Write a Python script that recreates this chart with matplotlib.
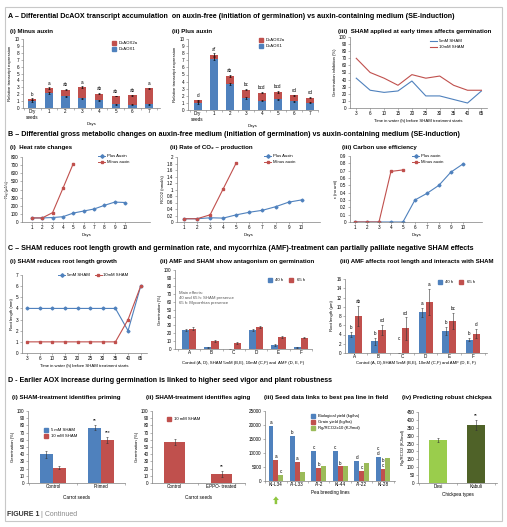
import matplotlib
matplotlib.use("Agg")
import matplotlib.pyplot as plt
import numpy as np
from matplotlib.lines import Line2D
from matplotlib.patches import Rectangle

plt.rcParams['font.family'] = ['Liberation Sans', 'DejaVu Sans']
plt.rcParams['font.size'] = 3.3

# ---------------- data ----------------
# A  DcAOX transcripts, stacked: DcAOX1 (bottom) + DcAOX2a (top)
a_days = ["Dry\nseeds", "1", "2", "3", "4", "5", "6", "7"]
a_minus_aox1 = [1.0, 2.2, 1.7, 1.4, 1.15, 0.55, 0.5, 0.55]
a_minus_aox2a = [0.3, 0.7, 0.95, 1.6, 0.95, 1.2, 1.35, 2.3]
a_minus_err = [0.1, 0.12, 0.1, 0.12, 0.08, 0.06, 0.06, 0.08]
a_minus_letters = ["b", "a", "ab", "a", "ab", "ab", "ab", "a"]
a_plus_aox1 = [1.0, 7.2, 3.7, 1.7, 1.3, 1.5, 1.25, 1.0]
a_plus_aox2a = [0.35, 0.6, 1.1, 1.15, 1.15, 1.05, 0.8, 0.75]
a_plus_err = [0.1, 0.2, 0.12, 0.1, 0.1, 0.1, 0.08, 0.08]
a_plus_letters = ["d", "a*", "ab", "bc", "bcd", "bcd", "cd", "cd"]

sham_hours = ["3", "6", "10", "15", "20", "25", "30", "35", "40", "65"]
inhib_5mm = [42, 25, 22, 24, 38, 17, 17, 12, 7, 24]
inhib_10mm = [70, 50, 42, 32, 47, 42, 45, 32, 25, 25]

# B  metabolic changes
b_days = [1, 2, 3, 4, 5, 6, 7, 8, 9, 10]
heat_plus = [50, 50, 55, 65, 110, 135, 160, 205, 245, 240]
heat_minus = [50, 50, 115, 415, 720]
co2_plus = [0.1, 0.1, 0.13, 0.12, 0.22, 0.3, 0.36, 0.47, 0.61, 0.68]
co2_minus = [0.1, 0.1, 0.22, 1.02, 1.82]
cue_plus = [0, 0, 0, 0, 0, 0.3, 0.39, 0.5, 0.68, 0.79]
cue_minus = [0, 0, 0, 0.69, 0.71]

# C  SHAM / AMF
root_5mm = [4, 4, 4, 4, 4, 4, 4, 4, 2, 6]
root_10mm = [1, 1, 1, 1, 1, 1, 1, 1, 3, 6]
amf_groups = ["A", "B", "C", "D", "E", "F"]
germ_40h = [24, 2, 0, 24, 5, 2]
germ_40h_err = [1.5, 1, 0, 1.5, 1.5, 0.8]
germ_65h = [25.5, 10, 7.5, 28, 15.5, 14.5]
germ_65h_err = [2, 0.8, 0.8, 1, 1, 1]
rl_40h = [4.0, 2.5, 0, 8.8, 4.8, 2.9]
rl_40h_err = [0.6, 0.8, 0, 1.0, 0.8, 0.3]
rl_40h_letters = ["b", "b", "c", "a", "b", "b"]
rl_65h = [8.0, 5.0, 5.3, 11.0, 6.9, 4.2]
rl_65h_err = [2.2, 1.0, 2.4, 2.8, 1.8, 1.0]
rl_65h_letters = ["ab", "cd", "cd", "a", "bc", "d"]

# D  seed vigour
priming_cats = ["Control", "Primed"]
prim_5mm = [40, 77]
prim_5mm_err = [5, 4]
prim_5mm_stars = ["", "**"]
prim_10mm = [21.5, 60]
prim_10mm_err = [2, 4]
prim_10mm_stars = ["", "***"]
aging_cats = ["Control", "EPPO- treated"]
aging_germ = [57, 13]
aging_err = [4.5, 4]
aging_stars = ["", "**"]
pea_lines = ["KI-L34", "AI-L33", "AI-2", "KI-44", "AI-22", "KI-28"]
bio_yield = [19800, 16000, 10800, 10800, 7200, 8700]
bio_letters = ["a", "b", "c", "c", "d", "c\nd"]
grain_yield = [7500, 6700, 4800, 5200, 3500, 4300]
grain_letters = ["a", "a", "b", "b", "c", "b\nc"]
rg_x10 = [2200, 3200, 5200, 5200, 6300, 8300]
rg_x10_letters = ["c", "", "", "", "", ""]
chickpea = ["Desi", "Kabuli"]
chick_rg = [272, 370]
chick_err = [15, 32]
chick_stars = ["", "**"]

BLUE, RED, GREEN = "#4f81bd", "#c0504d", "#9bbb59"
DESI, KABULI = "#9acd4c", "#4f6228"
AXC = "#7f7f7f"

W, H = 507, 527
fig = plt.figure(figsize=(W / 100, H / 100), dpi=100)


def axpx(x0, y0, x1, y1):
    ax = fig.add_axes([x0 / W, 1 - y1 / H, (x1 - x0) / W, (y1 - y0) / H])
    for s in ("top", "right"):
        ax.spines[s].set_visible(False)
    for s in ("left", "bottom"):
        ax.spines[s].set_color(AXC)
        ax.spines[s].set_linewidth(0.5)
    ax.tick_params(length=1.5, width=0.4, pad=1, labelsize=3.3, color=AXC)
    ax.patch.set_alpha(0)
    return ax


def txt(x, y, s, size=4.2, weight="bold", **kw):
    fig.text(x / W, 1 - y / H, s, fontsize=size, fontweight=weight, va="center", ha="left", **kw)


def leg(ax, handles, labels, x, y, ncol=1, size=3.1):
    ax.legend(handles, labels, loc="upper left", bbox_to_anchor=(x / W, 1 - y / H),
              bbox_transform=fig.transFigure, frameon=False, fontsize=size, ncol=ncol,
              borderpad=0, labelspacing=0.5, handletextpad=0.4, handlelength=1.6, columnspacing=1.2)


def sq(c):
    return Line2D([], [], ls="none", marker="s", ms=2.2, mfc=c, mec=c)


def ln(c, m):
    return Line2D([], [], color=c, lw=0.7, marker=m, ms=1.8, mfc=c, mec=c)


def cat_ticks(ax, labels):
    n = len(labels)
    ax.set_xticks(range(n))
    ax.set_xticklabels(labels)
    ax.set_xticks(np.arange(n + 1) - 0.5, minor=True)
    ax.tick_params(axis="x", which="major", length=0)
    ax.tick_params(axis="x", which="minor", length=1.5, width=0.4, color=AXC)


# frame + section titles
fig.add_artist(Rectangle((5 / W, 1 - 521 / H), 497 / W, 514 / H, transform=fig.transFigure,
                         fill=False, ec="#c8c8c8", lw=0.8))
SEC = 5.15
txt(8, 17, "A – Differential DcAOX transcript accumulation  on auxin-free (initiation of germination) vs auxin-containing medium (SE-induction)", SEC)
txt(8, 134, "B – Differential gross metabolic changes on auxin-free medium (initiation of germination) vs auxin-containing medium (SE-induction)", SEC)
txt(8, 249, "C – SHAM reduces root length growth and germination rate, and mycorrhiza (AMF)-treatment can partially palliate negative SHAM effects", SEC)
txt(8, 381, "D - Earlier AOX increase during germination is linked to higher seed vigor and plant robustness", SEC)
fig.text(7 / W, 1 - 514 / H, "FIGURE 1", fontsize=5.0, fontweight="bold", va="center", color="#333333")
fig.text(41 / W, 1 - 514 / H, "| Continued", fontsize=5.0, va="center", color="#888888")

# ---------------- A ----------------
SUB = 4.45
txt(10, 31, "(i) Minus auxin", SUB)
txt(172, 31, "(ii) Plus auxin", SUB)
txt(338, 31, "(iii)  SHAM applied at early times affects germination", SUB)


def stacked(ax, aox1, aox2a, err, letters):
    x = np.arange(len(aox1))
    tot = np.add(aox1, aox2a)
    ax.bar(x, aox1, 0.5, color=BLUE)
    ax.bar(x, aox2a, 0.5, bottom=aox1, color=RED)
    ax.errorbar(x, aox1, yerr=err, fmt="none", ecolor="k", elinewidth=0.5, capsize=0.8, capthick=0.4)
    ax.errorbar(x, tot, yerr=err, fmt="none", ecolor="k", elinewidth=0.5, capsize=0.8, capthick=0.4)
    for xi, t, l in zip(x, tot, letters):
        ax.text(xi, t + 0.35, l, ha="center", va="bottom", fontsize=3.3)
    ax.set_ylim(0, 10)
    ax.set_yticks(range(11))
    cat_ticks(ax, a_days)
    ax.set_xlabel("Days", fontsize=3.1, labelpad=1)
    ax.set_ylabel("Relative transcript expression", fontsize=3.1, labelpad=1.5)


ax = axpx(23, 39, 160, 108)
stacked(ax, a_minus_aox1, a_minus_aox2a, a_minus_err, a_minus_letters)
ax.set_xlim(-0.55, 7.65)
leg(ax, [sq(RED), sq(BLUE)], ["DcAOX2a", "DcAOX1"], 108, 39)

ax = axpx(188, 39, 318, 110)
stacked(ax, a_plus_aox1, a_plus_aox2a, a_plus_err, a_plus_letters)
ax.set_xlim(-0.6, 7.5)
leg(ax, [sq(RED), sq(BLUE)], ["DcAOX2a", "DcAOX1"], 255, 36)

ax = axpx(350, 37, 487, 108)
x = np.arange(len(sham_hours))
ax.plot(x, inhib_5mm, color=BLUE, lw=0.8)
ax.plot(x, inhib_10mm, color=RED, lw=0.8)
ax.set_xticks(x)
ax.set_xticklabels(sham_hours)
ax.set_xlim(-0.45, 9.4)
ax.set_ylim(0, 100)
ax.set_yticks(range(0, 101, 10))
ax.set_xlabel("Time in water (h) before SHAM treatment starts", fontsize=3.1, labelpad=1.5)
ax.set_ylabel("Germination inhibition (%)", fontsize=3.1, labelpad=1.5)
leg(ax, [Line2D([], [], color=BLUE, lw=0.8), Line2D([], [], color=RED, lw=0.8)],
    ["5mM SHAM", "10mM SHAM"], 428, 37)

# ---------------- B ----------------
txt(10, 148, "(i)  Heat rate changes", SUB)
txt(170, 148, "(ii) Rate of CO₂ – production", SUB)
txt(342, 148, "(iii) Carbon use efficiency", SUB)


def metab(ax, plus, minus, ymax, step, ylab, labels):
    ax.plot(b_days, plus, color=BLUE, lw=0.8, marker="D", ms=1.5)
    ax.plot(b_days[:len(minus)], minus, color=RED, lw=0.8, marker="s", ms=1.8)
    ax.set_xticks(b_days)
    ax.set_ylim(0, ymax)
    ax.set_yticks(np.arange(0, ymax + step / 2, step))
    ax.set_xlabel("Days", fontsize=3.1, labelpad=1.5)
    ax.set_ylabel(ylab, fontsize=3.1, labelpad=1.5)
    return [ln(BLUE, "D"), ln(RED, "s")], labels


ax = axpx(22, 157, 150, 222)
h, l = metab(ax, heat_plus, heat_minus, 800, 100, "Rq (µJ/s)", ["Plus Auxin", "Minus auxin"])
ax.set_xlim(0.05, 12.4)
leg(ax, h, l, 96, 152)

ax = axpx(177, 157, 320, 222)
h, l = metab(ax, co2_plus, co2_minus, 2.0, 0.2, "RCO2 (nmol/s)", ["Plus Auxin", "Minus auxin"])
ax.set_yticklabels(["0", "0.2", "0.4", "0.6", "0.8", "1", "1.2", "1.4", "1.6", "1.8", "2"])
ax.set_xlim(0.47, 11.4)
leg(ax, h, l, 262, 152)

ax = axpx(350, 156, 482, 222)
h, l = metab(ax, cue_plus, cue_minus, 0.9, 0.1, "ε (no unit)", ["Plus auxin", "Minus auxin"])
ax.set_yticklabels(["0", "0.1", "0.2", "0.3", "0.4", "0.5", "0.6", "0.7", "0.8", "0.9"])
ax.set_xlim(0.58, 11.6)
leg(ax, h, l, 410, 152)

# ---------------- C ----------------
txt(10, 262, "(i) SHAM reduces root length growth", SUB)
txt(160, 262, "(ii) AMF and SHAM show antagonism on germination", SUB)
txt(340, 262, "(iii) AMF affects root length and interacts with SHAM", SUB)

ax = axpx(22, 275, 147, 353)
x = np.arange(len(sham_hours))
ax.plot(x, root_5mm, color=BLUE, lw=0.8, marker="D", ms=1.5)
ax.plot(x, root_10mm, color=RED, lw=0.8, marker="s", ms=1.8)
ax.set_xticks(x)
ax.set_xticklabels(sham_hours)
ax.set_xlim(-0.4, 9.5)
ax.set_ylim(0, 7)
ax.set_yticks(range(8))
ax.set_xlabel("Time in water (h) before SHAM treatment starts", fontsize=3.1, labelpad=1.5)
ax.set_ylabel("Root length (mm)", fontsize=3.1, labelpad=1.5)
leg(ax, [ln(BLUE, "D"), ln(RED, "s")], ["5mM SHAM", "10mM SHAM"], 56, 271, ncol=2)

ekw = dict(fmt="none", ecolor="#333333", elinewidth=0.4, capsize=0.8, capthick=0.4)

ax = axpx(175, 270, 312, 349)
x = np.arange(len(amf_groups))
bw = 0.32
ax.bar(x - bw / 2, germ_40h, bw, color=BLUE)
ax.bar(x + bw / 2, germ_65h, bw, color=RED)
ax.errorbar(x - bw / 2, germ_40h, yerr=germ_40h_err, **ekw)
ax.errorbar(x + bw / 2, germ_65h, yerr=germ_65h_err, **ekw)
cat_ticks(ax, amf_groups)
ax.set_xlim(-0.63, 5.5)
ax.set_ylim(0, 100)
ax.set_yticks(range(0, 101, 10))
ax.set_xlabel("Control (A, D), SHAM 5mM (B,E), 10mM (C,F) and  AMF (D, E, F)", fontsize=3.1, labelpad=3.5)
ax.set_ylabel("Germination (%)", fontsize=3.1, labelpad=1.5)
ax.text(0.03, 0.74, "Main effects:\n40 and 65 h: SHAM presence\n65 h: Mycorrhiza presence",
        transform=ax.transAxes, fontsize=3.1, color="#555555", va="top", linespacing=1.4)
leg(ax, [sq(BLUE), sq(RED)], ["40 h", "65 h"], 264, 276, ncol=2)

ax = axpx(345, 279, 487, 353)
bw = 0.3
ax.bar(x - bw / 2, rl_40h, bw, color=BLUE)
ax.bar(x + bw / 2, rl_65h, bw, color=RED)
ax.errorbar(x - bw / 2, rl_40h, yerr=rl_40h_err, **ekw)
ax.errorbar(x + bw / 2, rl_65h, yerr=rl_65h_err, **ekw)
for xi, v, e, l in zip(x, rl_40h, rl_40h_err, rl_40h_letters):
    ax.text(xi - bw / 2, max(v + e, 2.2) + 0.4, l, ha="center", va="bottom", fontsize=3.3)
for xi, v, e, l in zip(x, rl_65h, rl_65h_err, rl_65h_letters):
    ax.text(xi + bw / 2, v + e + 0.4, l, ha="center", va="bottom", fontsize=3.3)
cat_ticks(ax, amf_groups)
ax.set_xlim(-0.42, 5.6)
ax.set_ylim(0, 16)
ax.set_yticks(range(0, 17, 2))
ax.set_xlabel("Control (A, D),SHAM 5mM (B,E), 10mM (C,F) and AMF (D, E, F)", fontsize=3.1, labelpad=1)
ax.set_ylabel("Root length (µm)", fontsize=3.1, labelpad=1.5)
leg(ax, [sq(BLUE), sq(RED)], ["40 h", "65 h"], 434, 278, ncol=2)

# ---------------- D ----------------
txt(12, 398, "(i) SHAM-treatment identifies priming", SUB)
txt(146, 398, "(ii) SHAM-treatment identifies aging", SUB)
txt(264, 398, "(iii) Seed data links to best pea line in field", SUB)
txt(402, 398, "(iv) Predicting robust chickpea", SUB)

ax = axpx(28, 411, 125, 483)
x = np.arange(len(priming_cats))
bw = 0.27
ax.bar(x - bw / 2, prim_5mm, bw, color=BLUE)
ax.bar(x + bw / 2, prim_10mm, bw, color=RED)
ax.errorbar(x - bw / 2, prim_5mm, yerr=prim_5mm_err, **ekw)
ax.errorbar(x + bw / 2, prim_10mm, yerr=prim_10mm_err, **ekw)
for xi, v, e, s in zip(x, prim_5mm, prim_5mm_err, prim_5mm_stars):
    ax.text(xi - bw / 2, v + e + 2, s, ha="center", va="bottom", fontsize=3.5)
for xi, v, e, s in zip(x, prim_10mm, prim_10mm_err, prim_10mm_stars):
    ax.text(xi + bw / 2, v + e + 2, s, ha="center", va="bottom", fontsize=3.5)
cat_ticks(ax, priming_cats)
ax.set_xlim(-0.52, 1.5)
ax.set_ylim(0, 100)
ax.set_yticks(range(0, 101, 10))
ax.set_xlabel("Carrot seeds", fontsize=3.3, labelpad=4)
ax.set_ylabel("Germination (%)", fontsize=3.1, labelpad=1.5)
leg(ax, [sq(BLUE), sq(RED)], ["5 mM SHAM", "10 mM SHAM"], 40, 426)

ax = axpx(152, 411, 245, 483)
x = np.arange(len(aging_cats))
ax.bar(x, aging_germ, 0.43, color=RED)
ax.errorbar(x, aging_germ, yerr=aging_err, **ekw)
for xi, v, e, s in zip(x, aging_germ, aging_err, aging_stars):
    ax.text(xi, v + e + 2, s, ha="center", va="bottom", fontsize=3.5)
cat_ticks(ax, aging_cats)
ax.set_xlim(-0.48, 1.5)
ax.set_ylim(0, 100)
ax.set_yticks(range(0, 101, 10))
ax.set_xlabel("Carrot seeds", fontsize=3.3, labelpad=4)
ax.set_ylabel("Germination (%)", fontsize=3.1, labelpad=1.5)
leg(ax, [sq(RED)], ["10 mM SHAM"], 163, 415)

ax = axpx(265, 411, 395, 481)
x = np.arange(len(pea_lines))
bw = 0.23
for off, vals, c, lets in ((-bw, bio_yield, BLUE, bio_letters), (0, grain_yield, RED, grain_letters),
                           (bw, rg_x10, GREEN, rg_x10_letters)):
    ax.bar(x + off, vals, bw, color=c)
    for xi, v, l in zip(x, vals, lets):
        ax.text(xi + off, v + 300, l, ha="center", va="bottom", fontsize=3.3, linespacing=1.0)
cat_ticks(ax, pea_lines)
ax.set_xlim(-0.51, 5.56)
ax.set_ylim(0, 25000)
ax.set_yticks(range(0, 25001, 5000))
ax.set_xlabel("Pea breeding lines", fontsize=3.3, labelpad=1.5)
ax.annotate("", xy=(0, -0.18), xytext=(0, -0.37), xycoords=("data", "axes fraction"),
            textcoords=("data", "axes fraction"), annotation_clip=False,
            arrowprops=dict(arrowstyle="simple,head_width=1.3,head_length=0.8,tail_width=0.55",
                            color="#8fc63f", lw=0))
leg(ax, [sq(BLUE), sq(RED), sq(GREEN)],
    ["Biological yield (kg/ha)", "Grain yield (kg/ha)", "Rg/RCO2x10 (KJ/mol)"], 307, 412)

ax = axpx(418, 412, 497, 483)
x = np.arange(len(chickpea))
ax.bar(x, chick_rg, 0.47, color=[DESI, KABULI])
ax.errorbar(x, chick_rg, yerr=chick_err, **ekw)
for xi, v, e, s in zip(x, chick_rg, chick_err, chick_stars):
    ax.text(xi, v + e + 8, s, ha="center", va="bottom", fontsize=3.5)
cat_ticks(ax, chickpea)
ax.set_xlim(-0.53, 1.55)
ax.set_ylim(0, 450)
ax.set_yticks(range(0, 451, 50))
ax.set_xlabel("Chickpea types", fontsize=3.3, labelpad=1.5)
ax.set_ylabel("Rg/RCO2 (KJ/mol)", fontsize=3.1, labelpad=1.5)

fig.savefig("out.png", dpi=100)
